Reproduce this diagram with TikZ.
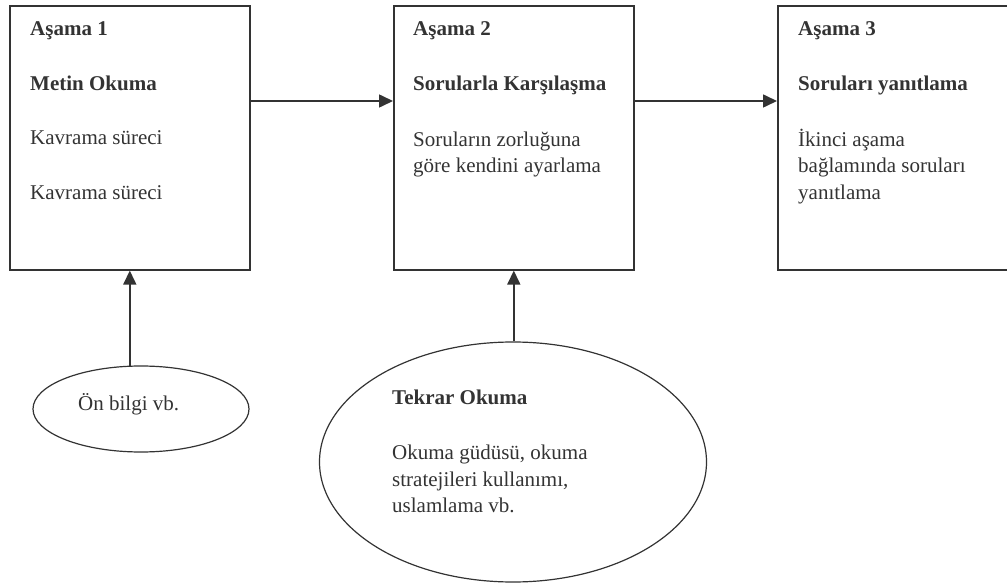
\documentclass[tikz,border=0pt]{standalone}
\usepackage{fontspec}
\setmainfont{Liberation Serif}
\usetikzlibrary{arrows.meta,shapes.geometric}
\definecolor{ink}{HTML}{333333}
\begin{document}
\begin{tikzpicture}[x=1pt,y=-1pt,
  stagebox/.style={draw=ink,line width=1.6pt,anchor=north west,inner sep=0pt},
  oval/.style={draw=ink,line width=1.2pt,ellipse,inner sep=0pt},
  lbl/.style={anchor=base west,inner sep=0pt,text=ink,font=\fontsize{21}{26}\selectfont},
  blbl/.style={lbl,font=\fontsize{21}{26}\selectfont\bfseries},
  arr/.style={draw=ink,line width=1.6pt,-{Triangle[length=14pt,width=13pt]}}]
\useasboundingbox (0,0) rectangle (1007,585);
\clip (0,0) rectangle (1007,585);
% boxes
\node[stagebox,minimum width=240pt,minimum height=264pt] (b1) at (9,5) {};
\node[stagebox,minimum width=240pt,minimum height=264pt] (b2) at (393,5) {};
\node[stagebox,minimum width=240pt,minimum height=264pt] (b3) at (777,5) {};
% ellipses
\node[oval,minimum width=216pt,minimum height=86pt] (e1) at (141,409) {};
\node[oval,minimum width=387pt,minimum height=240pt] (e2) at (513,462) {};
% box 1 text
\node[blbl] (t11) at (30,36) {Aşama 1};
\node[blbl] (t12) at (30,91) {Metin Okuma};
\node[lbl] (t13) at (30,145) {Kavrama süreci};
\node[lbl] (t14) at (30,200) {Kavrama süreci};
% box 2 text
\node[blbl] (t21) at (413,36) {Aşama 2};
\node[blbl] (t22) at (413,91) {Sorularla Karşılaşma};
\node[lbl] (t23) at (413,147) {Soruların zorluğuna};
\node[lbl] (t24) at (413,173) {göre kendini ayarlama};
% box 3 text
\node[blbl] (t31) at (798,36) {Aşama 3};
\node[blbl] (t32) at (798,91) {Soruları yanıtlama};
\node[lbl] (t33) at (798,147) {İkinci aşama};
\node[lbl] (t34) at (798,173) {bağlamında soruları};
\node[lbl] (t35) at (798,200) {yanıtlama};
% ellipse texts
\node[lbl] (u1) at (78,410) {Ön bilgi vb.};
\node[blbl] (v1) at (392,404) {Tekrar Okuma};
\node[lbl] (v2) at (392,459) {Okuma güdüsü, okuma};
\node[lbl] (v3) at (392,486) {stratejileri kullanımı,};
\node[lbl] (v4) at (392,512) {uslamlama vb.};
% connectors
\draw[arr] ([yshift=-96pt]b1.north east) -- ([yshift=-96pt]b2.north west);
\draw[arr] ([yshift=-96pt]b2.north east) -- ([yshift=-96pt]b3.north west);
\draw[arr] ([yshift=-0.8pt]b1.south |- e1.north) -- (b1.south);
\draw[arr] (b2.south |- e2.north) -- (b2.south);
\end{tikzpicture}
\end{document}
